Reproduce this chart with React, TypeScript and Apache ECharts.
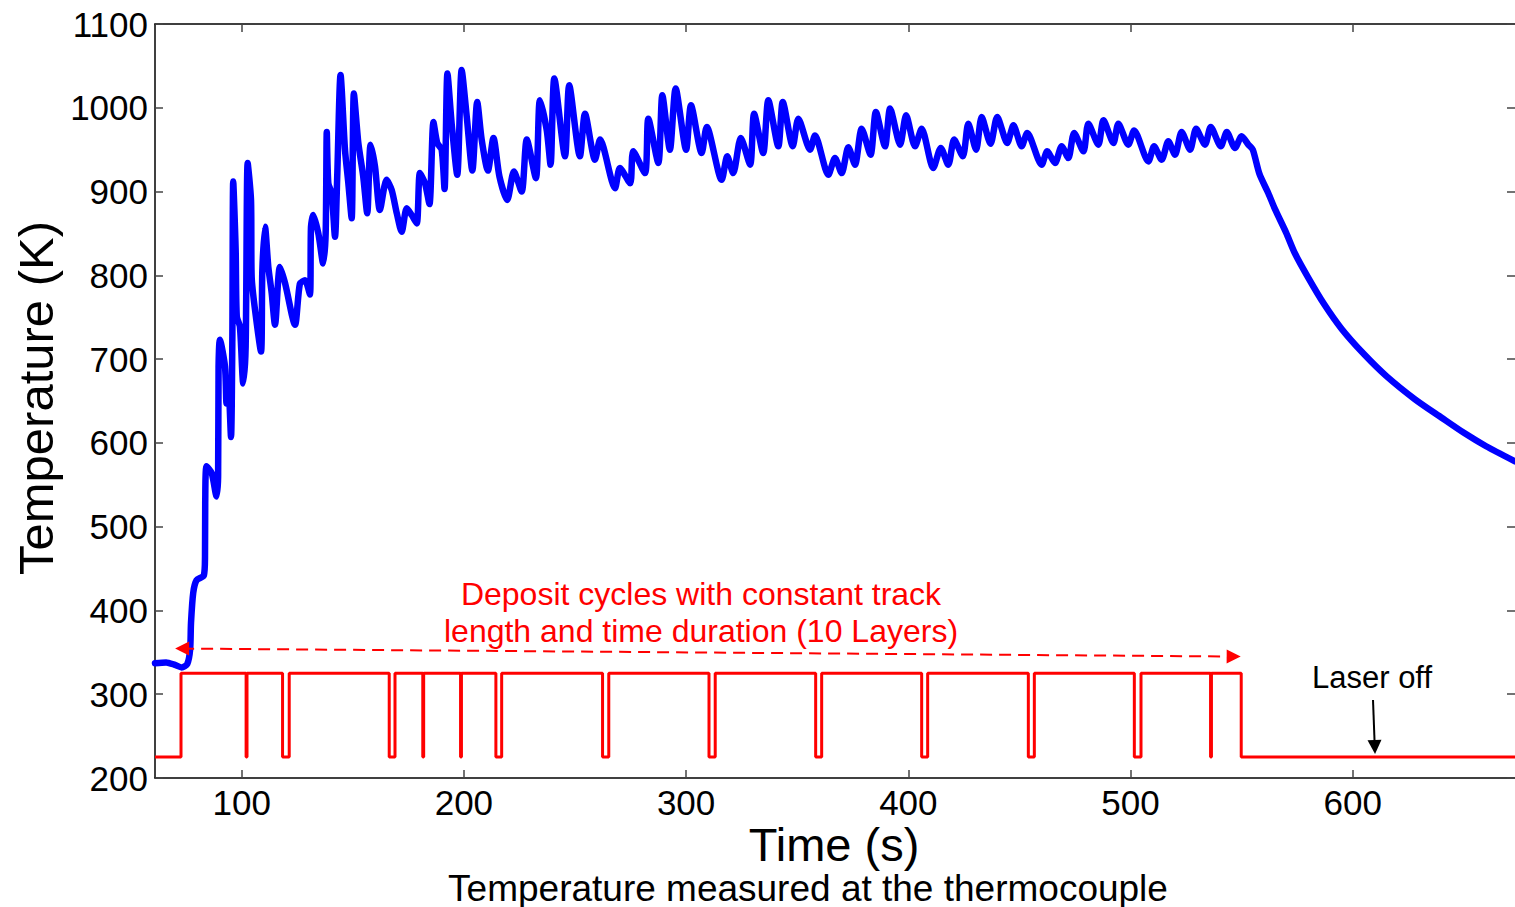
import React, { useEffect, useRef } from "react";
import * as echarts from "echarts";

// Thermocouple reading (s, K)
const timeS = [
  61, 66, 70, 73, 75.5, 76.8, 77.2, 78.2, 79.7, 83.0, 83.5, 83.6, 84.2, 86.5, 88.7, 89.4, 89.6, 90.2, 92.5, 93.2,
  94.0, 95.2, 95.8, 96.2, 97.3, 97.8, 99.2, 100.7, 101.8, 102.7, 104.2, 104.5, 106.0, 108.7, 109.3, 110.5, 112.0, 113.5, 115.0, 117.2,
  119.5, 124.0, 126.2, 128.5, 130.7, 131.2, 132.2, 134.5, 136.7, 137.8, 138.3, 139.0, 140.5, 142.0, 143.0, 144.5, 146.5, 148.0, 149.5, 150.5,
  152.5, 154.7, 156.5, 158.0, 160.0, 162.2, 165.2, 167.5, 169.8, 172.0, 174.3, 176.5, 178.8, 180.2, 182.5, 184.5, 186.3, 188.0, 190.0, 191.3,
  192.6, 194.5, 197.0, 199.0, 201.3, 203.8, 206.0, 208.0, 210.8, 213.3, 216.0, 219.5, 222.5, 226.0, 228.3, 232.4, 234.2, 237.3, 239.0, 240.7,
  245.5, 247.4, 252.2, 254.5, 259.0, 261.3, 268.0, 270.2, 274.8, 276.2, 281.5, 283.0, 287.5, 289.3, 292.7, 295.3, 300.0, 302.2, 307.0, 309.3,
  316.0, 318.5, 321.2, 324.6, 328.8, 330.6, 334.7, 337.0, 341.5, 343.5, 348.0, 350.5, 355.8, 358.0, 364.0, 367.0, 370.0, 373.0, 376.0, 379.0,
  383.0, 385.4, 389.5, 391.8, 396.3, 399.0, 403.0, 406.0, 411.2, 414.6, 418.0, 420.6, 424.5, 427.0, 430.5, 433.0, 437.0, 440.0, 444.5, 447.3,
  451.0, 453.5, 460.0, 462.5, 466.0, 469.0, 472.0, 474.6, 478.8, 481.0, 485.5, 487.8, 492.3, 494.5, 499.0, 501.6, 508.0, 510.6, 514.0, 517.0,
  520.0, 523.0, 526.8, 529.5, 533.5, 536.1, 540.6, 543.3, 547.0, 550.0, 553.0, 555.0, 558.0, 562.0, 565.0, 570.0, 574.0, 580.0, 587.0, 595.0,
  605.0, 615.0, 628.0, 640.0, 650.0, 660.0, 673.0,
];
const tempK = [
  337, 338, 335, 332, 336, 353, 385, 421, 436, 442, 464, 528, 572, 564, 536, 560, 691, 723, 691, 647,
  671, 607, 723, 912, 830, 751, 739, 671, 715, 934, 890, 798, 759, 709, 806, 858, 810, 779, 741, 810,
  791, 741, 790, 794, 777, 858, 872, 850, 814, 850, 971, 910, 898, 846, 918, 1039, 950, 910, 868, 1017,
  958, 918, 874, 956, 930, 878, 914, 902, 874, 852, 880, 872, 862, 922, 910, 885, 983, 958, 950, 903,
  1041, 981, 920, 1045, 989, 925, 1007, 962, 925, 964, 918, 890, 924, 900, 962, 916, 1009, 973, 932, 1035,
  942, 1027, 942, 993, 938, 962, 904, 928, 910, 948, 922, 987, 934, 1015, 950, 1023, 950, 1003, 946, 977,
  914, 942, 922, 964, 932, 993, 946, 1009, 954, 1007, 954, 987, 950, 967, 920, 940, 922, 953, 932, 975,
  944, 995, 954, 999, 956, 991, 954, 975, 928, 952, 932, 962, 942, 981, 950, 989, 957, 989, 958, 979,
  954, 970, 932, 948, 934, 954, 940, 970, 948, 981, 956, 985, 958, 981, 956, 973, 936, 954, 938, 960,
  944, 971, 950, 975, 956, 977, 954, 971, 952, 966, 956, 950, 921, 898, 879, 851, 826, 797, 766, 736,
  706, 680, 652, 630, 612, 596, 578,
];

// Laser state: on/off levels, switch-on and final switch-off, and the short pauses between tracks
const laserLevelOff = 225;
const laserLevelOn = 325;
const laserStart = 72.7;
const laserStop = 549.8;
const laserPauses = [
  [102.0, 102.4], [118.4, 121.4], [166.4, 169.0], [181.5, 181.9], [198.5, 198.9], [214.4, 217.0],
  [262.4, 265.2], [310.3, 313.1], [358.3, 361.0], [406.0, 408.7], [454.0, 456.7], [501.7, 504.7], [536.0, 536.4],
];

const xMin = 61;
const xMax = 673;
const xTickValues = [100, 200, 300, 400, 500, 600];

// Annotation arrows in data space: [t, K]
const cycleArrowFrom = [73.2, 354.5];
const cycleArrowTo = [546.4, 345];
const laserOffArrowFrom = [609.1, 293];
const laserOffArrowTo = [609.9, 237];

const FONT = '"Liberation Sans", Arial, Helvetica, sans-serif';

function buildLaserSeries(): number[][] {
  const pts: number[][] = [[xMin, laserLevelOff], [laserStart, laserLevelOff], [laserStart, laserLevelOn]];
  for (const [a, b] of laserPauses) {
    pts.push([a, laserLevelOn], [a, laserLevelOff], [b, laserLevelOff], [b, laserLevelOn]);
  }
  pts.push([laserStop, laserLevelOn], [laserStop, laserLevelOff], [xMax, laserLevelOff]);
  return pts;
}

export default function App() {
  const ref = useRef<HTMLDivElement>(null);

  useEffect(() => {
    if (!ref.current) return;
    const chart = echarts.init(ref.current, undefined, { renderer: "svg" });
    const tempData = timeS.map((t, i) => [t, tempK[i]]);

    const frameLine = { show: true, lineStyle: { color: "#000", width: 1.5 } };
    const tickStyle = { color: "#444", width: 1.5 };

    chart.setOption({
      animation: false,
      backgroundColor: "#fff",
      grid: { left: 155, right: 0, top: 24, bottom: 129, containLabel: false },
      xAxis: [
        {
          type: "value",
          min: xMin,
          max: xMax,
          position: "bottom",
          axisLine: frameLine,
          axisTick: { show: true, inside: true, length: 8, lineStyle: tickStyle, customValues: xTickValues },
          axisLabel: { show: true, fontSize: 35, color: "#000", fontFamily: FONT, margin: 7, customValues: xTickValues },
          splitLine: { show: false },
        },
        {
          type: "value",
          min: xMin,
          max: xMax,
          position: "top",
          axisLine: frameLine,
          axisTick: { show: true, inside: true, length: 8, lineStyle: tickStyle, customValues: xTickValues },
          axisLabel: { show: false },
          splitLine: { show: false },
        },
      ],
      yAxis: [
        {
          type: "value",
          min: 200,
          max: 1100,
          interval: 100,
          position: "left",
          axisLine: frameLine,
          axisTick: { show: true, inside: true, length: 8, lineStyle: tickStyle },
          axisLabel: {
            show: true,
            fontSize: 35,
            color: "#000",
            fontFamily: FONT,
            margin: 7,
            formatter: (v: number) => String(v),
          },
          splitLine: { show: false },
        },
        {
          type: "value",
          min: 200,
          max: 1100,
          interval: 100,
          position: "right",
          axisLine: { show: false },
          axisTick: { show: true, inside: true, length: 8, lineStyle: tickStyle },
          axisLabel: { show: false },
          splitLine: { show: false },
        },
      ],
      series: [
        {
          name: "Laser",
          type: "line",
          data: buildLaserSeries(),
          showSymbol: false,
          symbol: "none",
          lineStyle: { color: "#ff0000", width: 3 },
          z: 2,
          markLine: {
            silent: true,
            animation: false,
            symbol: ["triangle", "triangle"],
            symbolSize: 14,
            label: { show: false },
            lineStyle: { color: "#ff0000", type: [12, 7], width: 2 },
            data: [
              [{ coord: cycleArrowFrom }, { coord: cycleArrowTo }],
              [
                { coord: laserOffArrowFrom, symbol: "none", lineStyle: { color: "#000", type: "solid", width: 2 }, itemStyle: { color: "#000" } },
                { coord: laserOffArrowTo, symbol: "triangle", itemStyle: { color: "#000" } },
              ],
            ],
          },
        },
        {
          name: "Temperature",
          type: "line",
          data: tempData,
          showSymbol: false,
          symbol: "none",
          smooth: 0.25,
          lineStyle: { color: "#0000ff", width: 6.5, join: "round", cap: "round" },
          z: 3,
        },
      ],
      graphic: [
        {
          type: "text",
          x: 36,
          y: 398,
          rotation: Math.PI / 2,
          style: { text: "Temperature (K)", fontSize: 49, fontFamily: FONT, fill: "#000", align: "center", verticalAlign: "middle" },
        },
        {
          type: "text",
          x: 834,
          y: 844,
          style: { text: "Time (s)", fontSize: 47, lineHeight: 40, fontFamily: FONT, fill: "#000", align: "center", verticalAlign: "middle" },
        },
        {
          type: "text",
          x: 808,
          y: 888,
          style: { text: "Temperature measured at the thermocouple", fontSize: 37, lineHeight: 32, fontFamily: FONT, fill: "#000", align: "center", verticalAlign: "middle" },
        },
        {
          type: "text",
          x: 701,
          y: 594,
          style: { text: "Deposit cycles with constant track", fontSize: 32, fontFamily: FONT, fill: "#ff0000", align: "center", verticalAlign: "middle" },
        },
        {
          type: "text",
          x: 701,
          y: 631,
          style: { text: "length and time duration (10 Layers)", fontSize: 32, fontFamily: FONT, fill: "#ff0000", align: "center", verticalAlign: "middle" },
        },
        {
          type: "text",
          x: 1372,
          y: 677,
          style: { text: "Laser off", fontSize: 31, fontFamily: FONT, fill: "#000", align: "center", verticalAlign: "middle" },
        },
      ],
    });

    return () => chart.dispose();
  }, []);

  return <div ref={ref} style={{ position: "absolute", left: 0, top: 0, width: 1515, height: 907 }} />;
}
